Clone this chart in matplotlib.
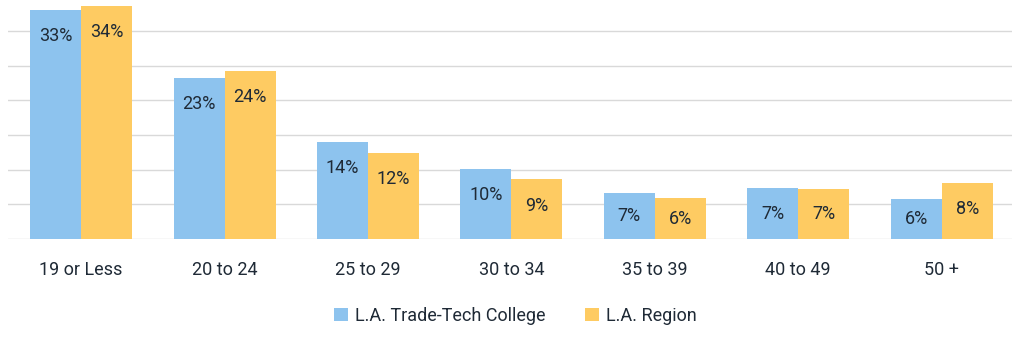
import numpy as np
import matplotlib
matplotlib.use('agg')
import matplotlib.pyplot as plt

# Age groups and share of students (%)
categories = ["19 or Less", "20 to 24", "25 to 29", "30 to 34", "35 to 39", "40 to 49", "50 +"]
college = [33.0, 23.2, 14.0, 10.1, 6.6, 7.3, 5.8]
region = [33.6, 24.2, 12.4, 8.6, 5.9, 7.2, 8.1]
college_labels = ["33%", "23%", "14%", "10%", "7%", "7%", "6%"]
region_labels = ["34%", "24%", "12%", "9%", "6%", "7%", "8%"]

blue = "#8dc3ee"
yellow = "#fecb62"
text_col = "#1f2a36"

plt.rcParams['font.family'] = ['Roboto', 'DejaVu Sans']

fig = plt.figure(figsize=(10.21, 3.37), dpi=100)
ax = fig.add_axes([8 / 1021, 1 - 239 / 337, 1004 / 1021, 239 / 337])

x = np.arange(len(categories))
w = 0.356
b1 = ax.bar(x - w / 2, college, w, color=blue, label="L.A. Trade-Tech College", zorder=2)
b2 = ax.bar(x + w / 2, region, w, color=yellow, label="L.A. Region", zorder=2)

# value labels inside bars near the top
for bars, labels in [(b1, college_labels), (b2, region_labels)]:
    for rect, lab in zip(bars, labels):
        h = rect.get_height()
        y = max(h - 3.8, h / 2)
        ax.text(rect.get_x() + rect.get_width() / 2, y, lab, ha="center", va="center",
                fontsize=13, color=text_col, zorder=3)

ax.set_xlim(-0.51, 6.49)
ax.set_ylim(0, 239 / 6.94)
ax.set_yticks(np.arange(0, 35, 5))
ax.yaxis.grid(True, color="#d9d9d9", linewidth=1, zorder=0)
ax.set_axisbelow(True)
ax.tick_params(axis="y", length=0, labelleft=False)
ax.set_xticks(x)
ax.set_xticklabels(categories, fontsize=13, color=text_col)
ax.tick_params(axis="x", length=0, pad=16)
for s in ax.spines.values():
    s.set_visible(False)

fig.legend(handles=[b1, b2], loc="center", bbox_to_anchor=(0.505, 1 - 316 / 337), ncol=2,
           frameon=False, fontsize=13, handlelength=0.75, handleheight=0.75,
           handletextpad=0.4, columnspacing=2.2, labelcolor=text_col)

fig.savefig("out.png", dpi=100)
